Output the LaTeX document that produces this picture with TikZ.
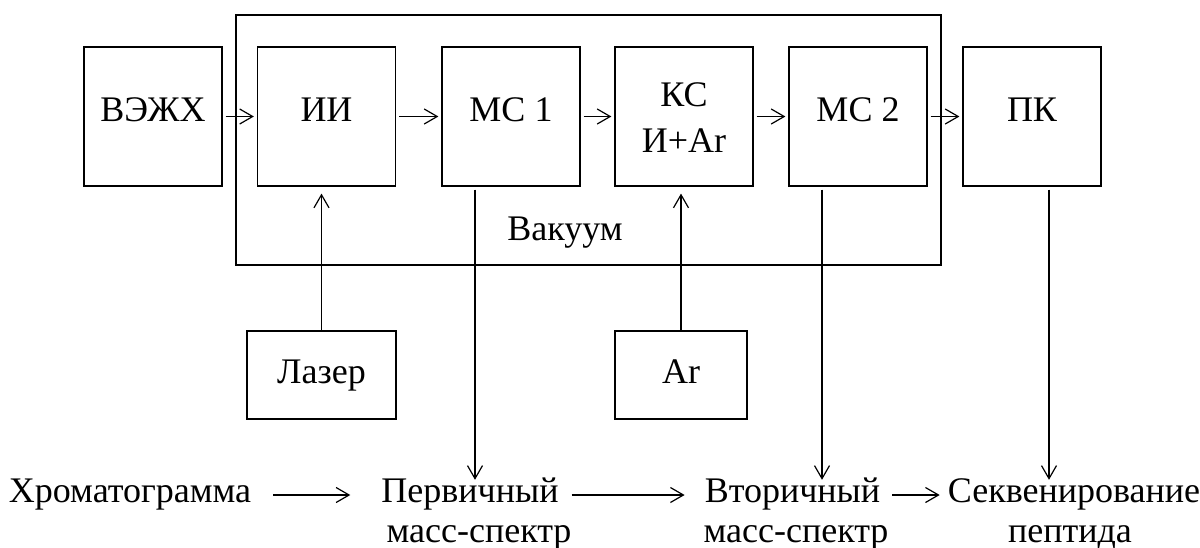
\documentclass[tikz,border=0pt]{standalone}
\usepackage{fontspec}
\setmainfont{Liberation Serif}
\usetikzlibrary{positioning, arrows.meta}

\begin{document}
\begin{tikzpicture}[
    x=1pt, y=-1pt,
    unit/.style={
        rectangle,
        draw=black,
        line width=1.2pt,
        minimum width=138pt,
        minimum height=139pt,
        inner sep=0pt,
        font=\fontsize{36pt}{42pt}\selectfont,
        text height=24pt,
        text depth=15pt,
    },
    src/.style={unit, minimum width=149pt, minimum height=88pt, text depth=8pt},
    chamber/.style={draw=black, line width=1.2pt, minimum width=705pt, minimum height=250pt, inner sep=0pt},
    stage/.style={font=\fontsize{36pt}{42pt}\selectfont, inner sep=0pt, text height=22pt, text depth=8pt},
    flow/.style={-{Straight Barb[length=13pt, width=15pt]}, line width=1.2pt, shorten <=3pt, shorten >=3pt},
]
\useasboundingbox (0,0) rectangle (1200,547);

\node[chamber] (vac) at (588.5,140) {};
\node[stage] (vaclabel) at (565,233) {Вакуум};

\node[unit] (hplc) at (153,116.5) {ВЭЖХ};
\node[unit] (ii) at (326.5,116.5) {ИИ};
\node[unit] (ms1) at (511,116.5) {МС 1};
\node[unit, align=center, text height=79pt, text depth=8pt] (cs) at (684,116.5) {КС\\[4pt]И+Ar};
\node[unit] (ms2) at (858,116.5) {МС 2};
\node[unit] (pc) at (1032,116.5) {ПК};

\node[src] (laser) at (321.5,375) {Лазер};
\node[src, minimum width=132pt] (ar) at (681,375) {Ar};

\node[stage] (chrom) at (130,495) {Хроматограмма};
\node[stage] (prim) at (470,495) {Первичный};
\node[stage] (primb) at (479,535) {масс-спектр};
\node[stage] (vtor) at (792.5,495) {Вторичный};
\node[stage] (vtorb) at (796,535) {масс-спектр};
\node[stage] (seq) at (1074,495) {Секвенирование};
\node[stage] (seqb) at (1070,535) {пептида};

\draw[flow] (hplc) -- (ii);
\draw[flow] (ii) -- (ms1);
\draw[flow] (ms1) -- (cs);
\draw[flow] (cs) -- (ms2);
\draw[flow] (ms2) -- (pc);

\draw[flow, shorten <=0pt, shorten >=7pt] (laser) -- (laser |- ii.south);
\draw[flow, shorten <=0pt, shorten >=7pt] (ar) -- (ar |- cs.south);

\draw[flow, shorten >=0pt] ([xshift=-36pt]ms1.south) -- ([xshift=-36pt]ms1.south |- prim.north);
\draw[flow, shorten >=0pt] ([xshift=-36pt]ms2.south) -- ([xshift=-36pt]ms2.south |- vtor.north);
\draw[flow, shorten >=0pt] ([xshift=17pt]pc.south) -- ([xshift=17pt]pc.south |- seq.north);

\draw[flow, shorten <=22pt, shorten >=31pt] (chrom) -- (prim);
\draw[flow, shorten <=13pt, shorten >=20pt] (prim) -- (vtor);
\draw[flow, shorten <=12pt, shorten >=8pt] (vtor) -- (seq);
\end{tikzpicture}
\end{document}
